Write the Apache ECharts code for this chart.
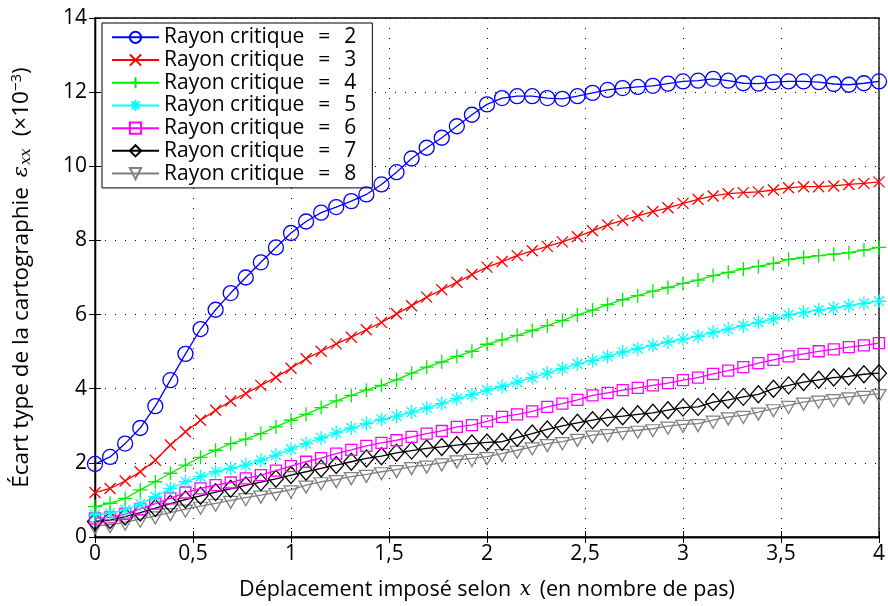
<!DOCTYPE html>
<html>
<head>
<meta charset="utf-8">
<script src="https://cdn.jsdelivr.net/npm/echarts@6/dist/echarts.min.js"></script>
<style>html,body{margin:0;padding:0;background:#fff;}#c{width:888px;height:606px;}</style>
</head>
<body>
<div id="c"></div>
<script>
// x positions (nombre de pas), 53 samples, step 1/13
var xs = [0,0.0769,0.1538,0.2308,0.3077,0.3846,0.4615,0.5385,0.6154,0.6923,0.7692,0.8462,0.9231,1,
1.0769,1.1538,1.2308,1.3077,1.3846,1.4615,1.5385,1.6154,1.6923,1.7692,1.8462,1.9231,2,
2.0769,2.1538,2.2308,2.3077,2.3846,2.4615,2.5385,2.6154,2.6923,2.7692,2.8462,2.9231,3,
3.0769,3.1538,3.2308,3.3077,3.3846,3.4615,3.5385,3.6154,3.6923,3.7692,3.8462,3.9231,4];

var r2 = [1.97,2.16,2.52,2.94,3.53,4.23,4.94,5.61,6.13,6.58,7.00,7.41,7.81,8.20,
8.51,8.75,8.90,9.06,9.24,9.51,9.84,10.21,10.50,10.77,11.08,11.39,11.67,
11.84,11.89,11.89,11.84,11.82,11.89,11.98,12.06,12.11,12.14,12.17,12.23,12.29,
12.31,12.36,12.31,12.24,12.23,12.27,12.29,12.29,12.27,12.22,12.20,12.24,12.29];
var r3 = [1.20,1.31,1.51,1.76,2.07,2.48,2.84,3.15,3.42,3.67,3.87,4.09,4.31,4.55,
4.81,5.01,5.21,5.39,5.59,5.79,6.02,6.24,6.47,6.67,6.87,7.08,7.28,
7.43,7.59,7.72,7.84,7.96,8.10,8.26,8.42,8.54,8.66,8.78,8.88,9.00,
9.11,9.20,9.26,9.29,9.31,9.36,9.42,9.45,9.45,9.47,9.51,9.54,9.58];
var r4 = [0.82,0.91,1.04,1.27,1.49,1.72,1.94,2.15,2.34,2.52,2.64,2.79,2.97,3.15,
3.31,3.49,3.67,3.82,3.96,4.09,4.24,4.42,4.58,4.72,4.87,5.01,5.20,
5.32,5.44,5.57,5.70,5.84,5.99,6.12,6.27,6.40,6.51,6.63,6.73,6.84,
6.93,7.05,7.14,7.23,7.30,7.38,7.49,7.54,7.59,7.63,7.67,7.74,7.81];
var r5 = [0.60,0.64,0.73,0.89,1.09,1.31,1.49,1.63,1.76,1.85,1.94,2.07,2.21,2.37,
2.52,2.67,2.81,2.94,3.06,3.17,3.26,3.37,3.48,3.60,3.73,3.84,3.96,
4.06,4.18,4.30,4.42,4.54,4.67,4.76,4.87,4.99,5.08,5.17,5.26,5.34,
5.41,5.52,5.61,5.70,5.79,5.88,5.99,6.06,6.12,6.18,6.24,6.30,6.36];
var r6 = [0.50,0.53,0.62,0.76,0.90,1.04,1.20,1.31,1.40,1.47,1.58,1.67,1.79,1.91,
2.03,2.13,2.25,2.35,2.46,2.54,2.61,2.70,2.79,2.86,2.97,3.02,3.12,
3.24,3.31,3.39,3.51,3.60,3.70,3.82,3.89,3.96,4.02,4.09,4.15,4.23,
4.30,4.40,4.49,4.58,4.69,4.78,4.87,4.94,5.01,5.06,5.12,5.17,5.23];
var r7 = [0.42,0.46,0.55,0.66,0.78,0.90,1.01,1.11,1.21,1.30,1.39,1.48,1.57,1.67,
1.76,1.85,1.94,2.03,2.12,2.18,2.27,2.33,2.39,2.43,2.48,2.52,2.55,
2.57,2.68,2.79,2.90,3.00,3.08,3.15,3.22,3.26,3.31,3.35,3.42,3.49,
3.51,3.64,3.70,3.78,3.85,4.00,4.09,4.18,4.24,4.30,4.33,4.39,4.42];
var r8 = [0.30,0.33,0.40,0.48,0.57,0.66,0.75,0.83,0.91,0.99,1.06,1.13,1.20,1.27,
1.40,1.49,1.55,1.63,1.69,1.76,1.82,1.90,1.94,2.00,2.08,2.12,2.17,
2.25,2.34,2.43,2.52,2.57,2.66,2.75,2.79,2.84,2.88,2.92,2.99,3.04,
3.06,3.15,3.24,3.28,3.37,3.46,3.55,3.64,3.69,3.73,3.78,3.82,3.87];

var seriesNames = ['Rayon critique = 2','Rayon critique = 3','Rayon critique = 4','Rayon critique = 5','Rayon critique = 6','Rayon critique = 7','Rayon critique = 8'];
var seriesValues = [r2,r3,r4,r5,r6,r7,r8];
var xTicks = ['0','0,5','1','1,5','2','2,5','3','3,5','4'];

var colors = ['#0000ff','#ff0000','#00ee00','#00ffff','#ff00ff','#000000','#808080'];
var symbols = [
  'circle',
  'path://M0,0L10,10M10,0L0,10',
  'path://M5,0L5,10M0,5L10,5',
  'path://M5,0L5,10M0,5L10,5M1.5,1.5L8.5,8.5M8.5,1.5L1.5,8.5',
  'rect',
  'path://M5,0L10,5.5L5,11L0,5.5Z',
  'path://M0,0L12,0L6,10Z'
];
var sizes = [15, 11, 14, 14, 11, [15,17], [14,12]];
var offsets = [[0,0],[0,0],[0,0],[0,0],[0,0],[0,0],[0,2]];

var FONT = 'Open Sans';
function pair(v){ return v.map(function(y,i){ return [xs[i], y]; }); }

var series = seriesNames.map(function(n, k){
  return {
    name: n, type: 'line', xAxisIndex: 0, yAxisIndex: 0,
    data: pair(seriesValues[k]),
    color: colors[k],
    symbol: symbols[k], symbolSize: sizes[k], symbolOffset: offsets[k],
    showAllSymbol: true,
    lineStyle: {color: colors[k], width: 1.3},
    itemStyle: {color: 'rgba(0,0,0,0)', borderColor: colors[k], borderWidth: 1.3},
    emphasis: {disabled: true},
    z: 10 - k
  };
});

var chart = echarts.init(document.getElementById('c'), null, {renderer: 'canvas'});
var axisCommon = {
  min: 0,
  axisLine: {show: true, lineStyle: {color: '#000', width: 1.3}},
  axisTick: {show: true, inside: true, length: 6, lineStyle: {color: '#000'}},
};
chart.setOption({
  animation: false,
  backgroundColor: '#fff',
  grid: {left: 95, right: 8, top: 18, bottom: 66, show: true, borderColor: '#000', borderWidth: 1.3},
  legend: {
    orient: 'vertical', left: 102, top: 23,
    backgroundColor: '#fff', borderColor: '#000', borderWidth: 1,
    padding: [3, 16, 3, 9],
    itemWidth: 47, itemHeight: 14, itemGap: 0, itemTextGap: 7,
    textStyle: {fontFamily: FONT, fontSize: 21, color: '#000', lineHeight: 22.7},
    formatter: function(n){ return n.replace(' = ', '\u2002\u2009=\u2002\u2009'); },
    data: seriesNames
  },
  xAxis: [
    Object.assign({}, axisCommon, {
      type: 'value', max: 4, interval: 0.5, position: 'bottom',
      axisLabel: {fontFamily: FONT, fontSize: 21, color: '#000', margin: 7,
        formatter: function(v){ return xTicks[Math.round(v*2)]; }},
      splitLine: {show: true, lineStyle: {color: '#000', type: [1, 9], width: 1}},
      name: 'Déplacement imposé selon {i|x} (en nombre de pas)',
      nameLocation: 'middle', nameGap: 42,
      nameTextStyle: {fontFamily: FONT, fontSize: 21.5, color: '#000',
        rich: {i: {fontFamily: 'DejaVu Serif', fontStyle: 'italic', fontSize: 20, color: '#000', padding: [0,3,0,3]}}}
    }),
    Object.assign({}, axisCommon, {
      type: 'value', max: 4, interval: 0.5, position: 'top',
      axisLabel: {show: false}, splitLine: {show: false}
    })
  ],
  yAxis: [
    Object.assign({}, axisCommon, {
      type: 'value', max: 14, interval: 2, position: 'left',
      axisLabel: {fontFamily: FONT, fontSize: 21, color: '#000', margin: 8},
      splitLine: {show: true, lineStyle: {color: '#000', type: [1, 9], width: 1}},
      name: 'Écart type de la cartographie {e|ε}{s|xx}{g| }(×10{p|−3})',
      nameLocation: 'middle', nameGap: 61, nameRotate: 90,
      nameTextStyle: {fontFamily: FONT, fontSize: 22.5, color: '#000',
        rich: {
          e: {fontFamily: 'DejaVu Serif', fontStyle: 'italic', fontSize: 21, color: '#000', padding: [0,0,0,4]},
          s: {fontFamily: 'DejaVu Serif', fontStyle: 'italic', fontSize: 15, color: '#000', verticalAlign: 'bottom', padding: [10,0,0,1]},
          g: {fontSize: 22.5, padding: [0,6,0,0]},
          p: {fontFamily: FONT, fontSize: 15, color: '#000', verticalAlign: 'top', padding: [0,0,10,0]}
        }}
    }),
    Object.assign({}, axisCommon, {
      type: 'value', max: 14, interval: 2, position: 'right',
      axisLabel: {show: false}, splitLine: {show: false}
    })
  ],
  series: series
});
</script>
</body>
</html>
